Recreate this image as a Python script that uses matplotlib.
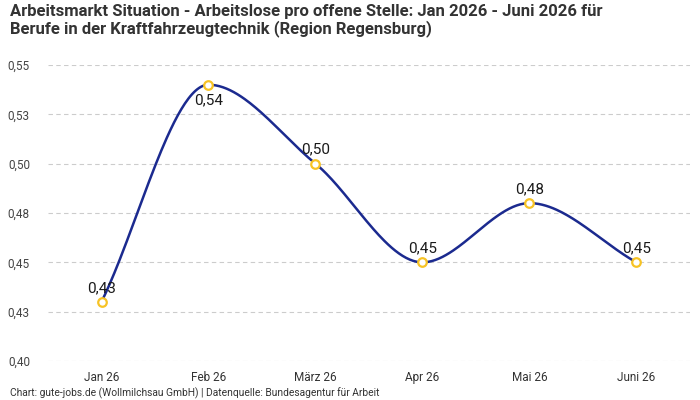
import matplotlib
matplotlib.use("Agg")
import matplotlib.pyplot as plt
import numpy as np

months = ["Jan 26", "Feb 26", "März 26", "Apr 26", "Mai 26", "Juni 26"]
values = [0.43, 0.54, 0.50, 0.45, 0.48, 0.45]
value_labels = ["0,43", "0,54", "0,50", "0,45", "0,48", "0,45"]
label_below = [False, True, False, False, False, False]
y_ticks = [0.40, 0.425, 0.45, 0.475, 0.50, 0.525, 0.55]
y_tick_labels = ["0,40", "0,43", "0,45", "0,48", "0,50", "0,53", "0,55"]

title = ("Arbeitsmarkt Situation - Arbeitslose pro offene Stelle: Jan 2026 - Juni 2026 für\n"
         "Berufe in der Kraftfahrzeugtechnik (Region Regensburg)")
source = "Chart: gute-jobs.de (Wollmilchsau GmbH) | Datenquelle: Bundesagentur für Arbeit"

LINE = "#1b2a8f"
MARK = "#f7c325"

plt.rcParams["font.family"] = ["Roboto", "DejaVu Sans"]


def monotone_curve(x, y, n=60):
    # Fritsch-Carlson monotone cubic, only for the smooth line shape
    x = np.asarray(x, float)
    y = np.asarray(y, float)
    h = np.diff(x)
    d = np.diff(y) / h
    m = np.zeros_like(y)
    m[0], m[-1] = d[0], d[-1]
    for i in range(1, len(y) - 1):
        if d[i - 1] * d[i] <= 0:
            m[i] = 0
        else:
            m[i] = 2 / (1 / d[i - 1] + 1 / d[i])
    xs, ys = [], []
    for i in range(len(h)):
        t = np.linspace(0, 1, n)
        h00 = 2 * t**3 - 3 * t**2 + 1
        h10 = t**3 - 2 * t**2 + t
        h01 = -2 * t**3 + 3 * t**2
        h11 = t**3 - t**2
        xs.append(x[i] + t * h[i])
        ys.append(h00 * y[i] + h10 * h[i] * m[i] + h01 * y[i + 1] + h11 * h[i] * m[i + 1])
    return np.concatenate(xs), np.concatenate(ys)


fig = plt.figure(figsize=(7, 4), dpi=100)
ax = fig.add_axes([0.0686, 0.0975, 0.917, 0.74])

pos = np.arange(len(months))
cx, cy = monotone_curve(pos, values)
ax.plot(cx, cy, color=LINE, linewidth=1.8, zorder=3)
ax.scatter(pos, values, s=38, facecolor="white", edgecolor=MARK, linewidth=1.6, zorder=4)

for p, v, lab, below in zip(pos, values, value_labels, label_below):
    if below:
        ax.annotate(lab, (p, v), xytext=(0, -6), textcoords="offset points",
                    ha="center", va="top", fontsize=11, color="#1a1a1a")
    else:
        ax.annotate(lab, (p, v), xytext=(0, 5), textcoords="offset points",
                    ha="center", va="bottom", fontsize=11, color="#1a1a1a")

ax.set_xlim(-0.5, 5.5)
ax.set_ylim(0.40, 0.55)
ax.set_xticks(pos)
ax.set_xticklabels(months, fontsize=8.5, color="#333333")
ax.set_yticks(y_ticks)
ax.set_yticklabels(y_tick_labels, fontsize=8.5, color="#444444")
ax.tick_params(axis="both", length=0)
ax.tick_params(axis="y", pad=13)
ax.tick_params(axis="x", pad=7)
ax.grid(axis="y", color="#cccccc", linestyle=(0, (4, 3)), linewidth=0.8)
ax.set_axisbelow(True)
for s in ax.spines.values():
    s.set_visible(False)

fig.text(0.014, 0.99, title, ha="left", va="top", fontsize=12, fontweight="bold",
         color="#333333", linespacing=1.1)
fig.text(0.014, 0.003, source, ha="left", va="bottom", fontsize=7.4,
         color="#333333")

fig.savefig("out.png", dpi=100)
